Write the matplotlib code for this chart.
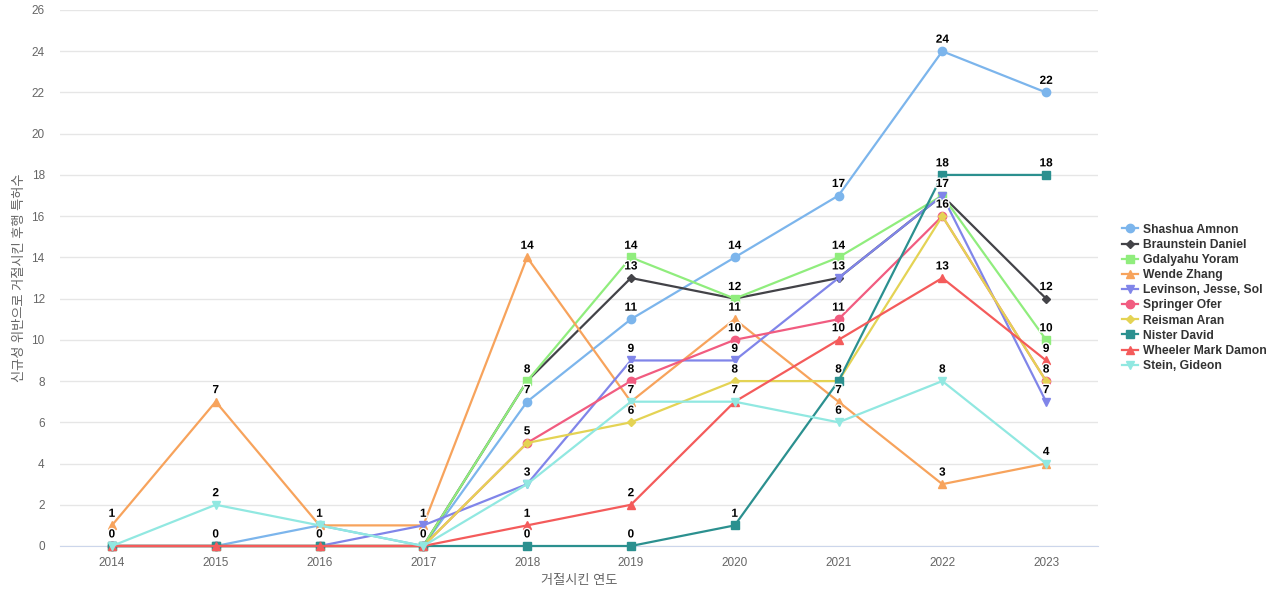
import matplotlib.pyplot as plt
import matplotlib.patheffects as pe

plt.rcParams['font.family'] = ['Liberation Sans', 'Noto Sans CJK KR', 'DejaVu Sans']

years = [2014, 2015, 2016, 2017, 2018, 2019, 2020, 2021, 2022, 2023]
names = ['Shashua Amnon', 'Braunstein Daniel', 'Gdalyahu Yoram', 'Wende Zhang',
         'Levinson, Jesse, Sol', 'Springer Ofer', 'Reisman Aran', 'Nister David',
         'Wheeler Mark Damon', 'Stein, Gideon']
shashua = [0, 0, 1, 0, 7, 11, 14, 17, 24, 22]
braunstein = [0, 0, 0, 0, 8, 13, 12, 13, 17, 12]
gdalyahu = [0, 0, 0, 0, 8, 14, 12, 14, 17, 10]
wende = [1, 7, 1, 1, 14, 7, 11, 7, 3, 4]
levinson = [0, 0, 0, 1, 3, 9, 9, 13, 17, 7]
springer = [0, 0, 0, 0, 5, 8, 10, 11, 16, 8]
reisman = [0, 0, 0, 0, 5, 6, 8, 8, 16, 8]
nister = [0, 0, 0, 0, 0, 0, 1, 8, 18, 18]
wheeler = [0, 0, 0, 0, 1, 2, 7, 10, 13, 9]
stein = [0, 2, 1, 0, 3, 7, 7, 6, 8, 4]
series = [shashua, braunstein, gdalyahu, wende, levinson,
          springer, reisman, nister, wheeler, stein]

colors = ['#7cb5ec', '#434348', '#90ed7d', '#f7a35c', '#8085e9',
          '#f15c80', '#e4d354', '#2b908f', '#f45b5b', '#91e8e1']
markers = ['o', 'D', 's', '^', 'v', 'o', 'D', 's', '^', 'v']
msizes = [6, 4.5, 6, 6, 6, 6, 4.5, 6, 6, 6]

fig = plt.figure(figsize=(12.8, 6), dpi=100)
ax = fig.add_axes([60 / 1280, 54 / 600, 1038 / 1280, 536 / 600])

x = list(range(len(years)))
for i, (vals, name) in enumerate(zip(series, names)):
    ax.plot(x, vals, color=colors[i], marker=markers[i], markersize=msizes[i],
            linewidth=1.6, label=name, zorder=3 + i, clip_on=False)

# one label per distinct value in each year
for j in x:
    for v in sorted(set(s[j] for s in series)):
        t = ax.annotate(str(v), (j, v), xytext=(0, 4), textcoords='offset points',
                        ha='center', va='bottom', fontsize=8.5, fontweight='bold',
                        color='black', zorder=20)
        t.set_path_effects([pe.withStroke(linewidth=2, foreground='white')])

ax.set_xlim(-0.5, 9.5)
ax.set_ylim(0, 26)
ax.set_yticks(range(0, 27, 2))
ax.set_xticks(x)
ax.set_xticklabels([str(y) for y in years])
ax.grid(axis='y', color='#e6e6e6', linewidth=1)
ax.set_axisbelow(True)
for s in ['top', 'right', 'left']:
    ax.spines[s].set_visible(False)
ax.spines['bottom'].set_color('#ccd6eb')
ax.tick_params(axis='both', length=0, labelsize=8.5, colors='#666666')
ax.tick_params(axis='x', pad=8)
ax.tick_params(axis='y', pad=11)
ax.set_xlabel('거절시킨 연도', color='#666666', fontsize=9.5, labelpad=4)
ax.set_ylabel('신규성 위반으로 거절시킨 후행 특허수', color='#666666', fontsize=9.5)
ax.yaxis.set_label_coords(-0.0325, 0.5)

leg = ax.legend(loc='center left', bbox_to_anchor=(1.018, 0.463), frameon=False,
                prop={'weight': 'bold', 'size': 8.7}, handlelength=1.4,
                labelspacing=0.26, handletextpad=0.4, borderaxespad=0)
for t in leg.get_texts():
    t.set_color('#333333')

fig.savefig('out.png', dpi=100)
